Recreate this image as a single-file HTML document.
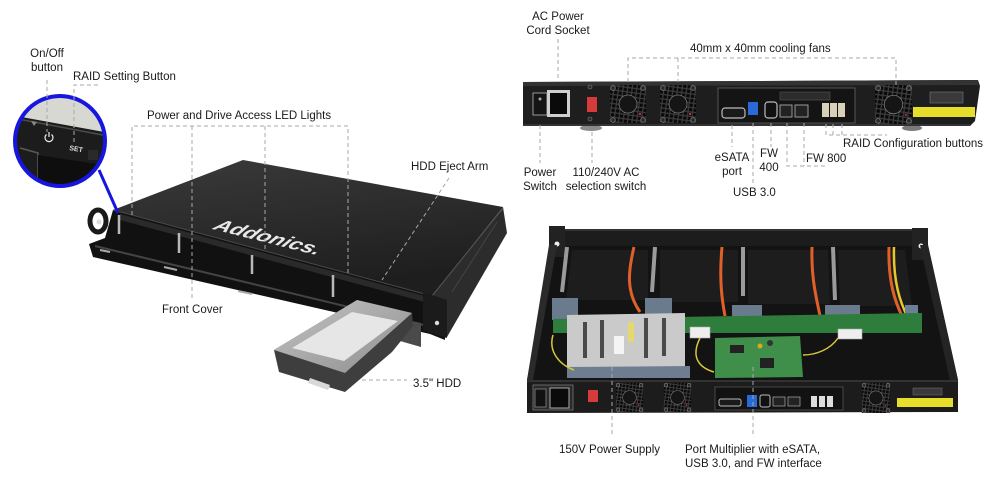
<!DOCTYPE html>
<html><head><meta charset="utf-8">
<style>
html,body{margin:0;padding:0;background:#fff;}
svg{display:block}
text{font-family:"Liberation Sans",Arial,sans-serif;font-size:11.5px;fill:#1a1a1a;}
.d{stroke:#a8a8a8;stroke-width:1;fill:none;stroke-dasharray:4 3;}
</style></head><body>
<svg width="1000" height="485" viewBox="0 0 1000 485" xmlns="http://www.w3.org/2000/svg">
<defs>
 <pattern id="grill" width="4.5" height="4.5" patternUnits="userSpaceOnUse" patternTransform="rotate(8)">
   <rect width="4.5" height="4.5" fill="#3c3c3c"/><rect x="0.6" y="0.6" width="3.2" height="3.2" fill="#080808"/>
 </pattern>
 <linearGradient id="topg" x1="0" y1="0" x2="0.3" y2="1">
   <stop offset="0" stop-color="#3a3a3a"/><stop offset="1" stop-color="#1e1e1e"/>
 </linearGradient>
 <linearGradient id="hddg" x1="0" y1="0" x2="1" y2="1">
   <stop offset="0" stop-color="#c4c4c4"/><stop offset="1" stop-color="#8e8e8e"/>
 </linearGradient>
 <clipPath id="cc"><circle cx="60" cy="141" r="45"/></clipPath>
 <symbol id="fan" viewBox="0 0 36 38">
   <rect x="0" y="0" width="36" height="38" fill="url(#grill)"/>
   <circle cx="18" cy="19" r="9" fill="#151515" stroke="#777" stroke-width="0.8"/>
   <circle cx="3" cy="3" r="2.3" fill="#2a2a2a" stroke="#888" stroke-width=".7"/>
   <circle cx="33" cy="3" r="2.3" fill="#2a2a2a" stroke="#888" stroke-width=".7"/>
   <circle cx="3" cy="35" r="2.3" fill="#2a2a2a" stroke="#888" stroke-width=".7"/>
   <circle cx="33" cy="35" r="2.3" fill="#2a2a2a" stroke="#888" stroke-width=".7"/>
   <rect x="29" y="28" width="2" height="2" fill="#c03030"/>
 </symbol>
</defs>
<rect width="1000" height="485" fill="#fff"/>

<!-- ============ LEFT CHASSIS ============ -->
<!-- front region -->
<polygon points="113,210 432,296 445,300 445,340 430,334 93,257 89,244 105,238" fill="#111"/>
<!-- bay tops -->
<polygon points="120,214 432,298 432,304 120,220" fill="#2a2a2a"/>
<line x1="95" y1="246" x2="432" y2="327" stroke="#444" stroke-width="2"/>
<!-- top face -->
<polygon points="243,160 503,207 432,296 113,210" fill="url(#topg)"/>
<line x1="113" y1="210" x2="432" y2="296" stroke="#4a4a4a" stroke-width="1"/>
<!-- right side -->
<polygon points="503,207 507,233 447,337 445,300 432,296" fill="#2c2c2c"/>
<line x1="503" y1="208" x2="432" y2="296" stroke="#555" stroke-width="1"/>
<line x1="497" y1="222" x2="452" y2="292" stroke="#444" stroke-width="1"/>
<!-- right ear -->
<polygon points="423,292 447,300 447,338 423,331" fill="#1b1b1b"/>
<circle cx="437" cy="323" r="2.2" fill="#ddd"/>
<!-- left ear -->
<ellipse cx="98" cy="221" rx="8" ry="11" fill="none" stroke="#1a1a1a" stroke-width="5"/>
<circle cx="99" cy="222" r="2.5" fill="#ddd"/>
<!-- pillars -->
<line x1="119" y1="215" x2="119" y2="234" stroke="#b8b8b8" stroke-width="2.5"/>
<line x1="179" y1="233" x2="179" y2="253" stroke="#b8b8b8" stroke-width="2.5"/>
<line x1="252" y1="255" x2="252" y2="274" stroke="#b8b8b8" stroke-width="2.5"/>
<line x1="333" y1="275" x2="333" y2="297" stroke="#b8b8b8" stroke-width="2.5"/>
<!-- slots -->
<line x1="100" y1="250" x2="110" y2="252" stroke="#aaa" stroke-width="2"/>
<line x1="164" y1="267" x2="177" y2="270" stroke="#aaa" stroke-width="2"/>
<line x1="238" y1="291" x2="252" y2="294" stroke="#aaa" stroke-width="2"/>
<!-- brand -->
<text x="0" y="0" transform="translate(212,229) rotate(14) skewX(-25)" style="font-size:17px;font-weight:bold;font-style:italic;fill:#e8e8e8" textLength="108" lengthAdjust="spacingAndGlyphs">Addonics.</text>

<!-- HDD -->
<polygon points="398,318 421,323 421,347 400,341" fill="#4a4a4a"/>
<polygon points="274,350 357,300 412,313 413,326 392,352 345,392 279,372" fill="#3e3e3e"/>
<polygon points="274,350 357,300 412,313 345,373" fill="url(#hddg)"/>
<polygon points="292,348 352,312 398,321 344,361" fill="#e6e6e6"/>
<polygon points="310,378 330,385 328,390 308,383" fill="#d8d8d8"/>

<!-- callout circle -->
<g clip-path="url(#cc)">
  <rect x="10" y="90" width="100" height="100" fill="#d8d8d3"/>
  <polygon points="10,115 110,133 110,200 10,200" fill="#1c1c1c"/>
  <line x1="18" y1="119" x2="108" y2="136" stroke="#4a4a4a" stroke-width="1.5"/>
  <polyline points="20,148 38,153 38,200" fill="none" stroke="#5a5a5a" stroke-width="1.5"/>
  <polygon points="38,155 110,166 110,200 38,200" fill="#0e0e0e"/>
  <rect x="88" y="150" width="10" height="10" fill="#2a2a2a"/>
  <polygon points="31,121 37,122 34,126" fill="#888"/>
  <path d="M46.5 134.5 A4 4 0 1 0 51.5 134.5" fill="none" stroke="#eee" stroke-width="1.2"/>
  <line x1="49" y1="132" x2="49" y2="137" stroke="#eee" stroke-width="1.2"/>
  <text x="0" y="0" transform="translate(69,150) rotate(10)" style="font-size:7px;font-weight:bold;fill:#ddd">SET</text>
</g>
<circle cx="60" cy="141" r="45" fill="none" stroke="#1616e0" stroke-width="4"/>
<line x1="99" y1="170" x2="118" y2="213" stroke="#1616e0" stroke-width="3"/>

<!-- ============ TOP RIGHT REAR PANEL ============ -->
<ellipse cx="591" cy="128" rx="11" ry="3" fill="#8a8a8a"/>
<ellipse cx="912" cy="128" rx="10" ry="3" fill="#7a7a7a"/>
<polygon points="523,82 978,80 980,86 975,121 970,126 523,126" fill="#1e1e1e"/>
<polygon points="523,82 978,80 978,85 523,86" fill="#333"/>
<line x1="523" y1="125" x2="970" y2="125" stroke="#3a3a3a" stroke-width="1.5"/>
<!-- switch & socket -->
<rect x="533" y="93" width="14" height="22" fill="#141414" stroke="#999" stroke-width="1"/>
<circle cx="540" cy="99" r="1.5" fill="#aaa"/>
<rect x="547" y="90" width="23" height="27" fill="#cfcfcf"/>
<rect x="550" y="93" width="17" height="21" fill="#0a0a0a"/>
<rect x="587" y="97" width="10" height="15" fill="#d63a3a"/>
<circle cx="590" cy="87" r="2" fill="#2a2a2a" stroke="#888" stroke-width=".6"/>
<circle cx="590" cy="119" r="2" fill="#2a2a2a" stroke="#888" stroke-width=".6"/>
<use href="#fan" x="610" y="85" width="36" height="38"/>
<use href="#fan" x="660" y="85" width="36" height="38"/>
<!-- port panel -->
<rect x="718" y="88" width="137" height="35" fill="#141414" stroke="#555" stroke-width="1"/>
<rect x="780" y="92" width="50" height="8" fill="#2c2c2c" stroke="#555" stroke-width=".6"/>
<rect x="722" y="108" width="23" height="10" rx="3" fill="#1a1a1a" stroke="#bbb" stroke-width="1.2"/>
<rect x="748" y="102" width="10" height="13" fill="#2a6ad8"/>
<rect x="765" y="102" width="12" height="16" rx="3" fill="#111" stroke="#bbb" stroke-width="1.2"/>
<rect x="780" y="105" width="12" height="12" fill="#222" stroke="#999" stroke-width="1"/>
<rect x="795" y="105" width="13" height="12" fill="#222" stroke="#999" stroke-width="1"/>
<rect x="822" y="103" width="7" height="14" fill="#d8d0b8"/>
<rect x="830" y="103" width="7" height="14" fill="#d8d0b8"/>
<rect x="838" y="103" width="7" height="14" fill="#d8d0b8"/>
<use href="#fan" x="875" y="85" width="37" height="39"/>
<rect x="930" y="92" width="33" height="11" fill="#3a3a3a" stroke="#777" stroke-width=".6"/>
<rect x="913" y="107" width="62" height="10" fill="#e6de2a"/>

<!-- ============ BOTTOM RIGHT OPEN CHASSIS ============ -->
<polygon points="553,245 928,245 958,380 527,380" fill="#131313"/>
<rect x="549" y="229" width="379" height="17" fill="#1c1c1c"/>
<line x1="549" y1="230" x2="928" y2="230" stroke="#3a3a3a" stroke-width="1.5"/>
<rect x="549" y="226" width="16" height="31" fill="#222"/>
<circle cx="557" cy="244" r="2.5" fill="#eee"/>
<rect x="912" y="228" width="16" height="32" fill="#222"/>
<circle cx="921" cy="246" r="2.5" fill="#eee"/>
<polygon points="549,245 557,245 533,380 527,380" fill="#2a2a2a"/>
<polygon points="920,245 928,245 958,380 950,380" fill="#242424"/>
<!-- bay trays -->
<polygon points="572,250 648,250 648,300 566,300" fill="#1d1d1d"/>
<polygon points="660,250 738,250 738,302 660,302" fill="#1d1d1d"/>
<polygon points="748,250 828,250 830,304 748,304" fill="#1d1d1d"/>
<polygon points="838,250 905,250 912,306 840,306" fill="#1d1d1d"/>
<!-- rails -->
<line x1="567" y1="247" x2="562" y2="292" stroke="#9a9a9a" stroke-width="4"/>
<line x1="655" y1="247" x2="652" y2="292" stroke="#9a9a9a" stroke-width="4"/>
<line x1="743" y1="247" x2="743" y2="296" stroke="#9a9a9a" stroke-width="4"/>
<line x1="833" y1="247" x2="835" y2="300" stroke="#9a9a9a" stroke-width="4"/>
<!-- cables -->
<path d="M634 247 C628 272 626 292 640 312" fill="none" stroke="#e0602a" stroke-width="3"/>
<path d="M722 247 C719 280 722 300 725 316" fill="none" stroke="#e0602a" stroke-width="3"/>
<path d="M812 247 C811 280 817 300 820 316" fill="none" stroke="#e0602a" stroke-width="3"/>
<path d="M889 247 C888 282 895 302 903 318" fill="none" stroke="#e0602a" stroke-width="3"/>
<path d="M894 247 C893 282 900 302 908 318" fill="none" stroke="#e8c828" stroke-width="2.5"/>
<!-- brackets -->
<rect x="552" y="298" width="26" height="22" fill="#6b7b8e"/>
<rect x="645" y="298" width="27" height="20" fill="#6b7b8e"/>
<rect x="732" y="305" width="30" height="20" fill="#6b7b8e"/>
<rect x="825" y="305" width="35" height="20" fill="#6b7b8e"/>
<rect x="905" y="305" width="13" height="22" fill="#6b7f99"/>
<!-- backplane -->
<polygon points="553,319 922,313 922,333 553,333" fill="#2e7d3c"/>
<!-- molex -->
<rect x="690" y="327" width="20" height="11" fill="#eee" stroke="#aaa" stroke-width=".6"/>
<rect x="838" y="329" width="24" height="10" fill="#eee" stroke="#aaa" stroke-width=".6"/>
<!-- PSU -->
<polygon points="567,315 685,313 685,367 567,369" fill="#cacaca"/>
<rect x="583" y="322" width="4" height="36" fill="#4a4a4a"/>
<rect x="600" y="320" width="4" height="38" fill="#4a4a4a"/>
<rect x="614" y="336" width="10" height="18" fill="#f4f4f4"/>
<rect x="628" y="322" width="6" height="20" fill="#e4d870"/>
<rect x="644" y="318" width="4" height="40" fill="#4a4a4a"/>
<rect x="662" y="318" width="4" height="38" fill="#4a4a4a"/>
<polygon points="567,367 690,366 690,378 567,378" fill="#6e7d92"/>
<!-- port multiplier pcb -->
<polygon points="715,338 800,336 803,377 715,378" fill="#3f8f4a"/>
<rect x="730" y="345" width="14" height="8" fill="#222"/>
<rect x="760" y="358" width="14" height="10" fill="#222"/>
<circle cx="770" cy="343" r="3" fill="#333"/>
<circle cx="760" cy="346" r="2.5" fill="#d8a820"/>
<path d="M838 338 C830 350 815 355 803 355" fill="none" stroke="#d8c83a" stroke-width="1.5"/>
<path d="M700 338 C690 358 700 368 714 372" fill="none" stroke="#d8c83a" stroke-width="1.5"/>
<path d="M553 335 C548 352 560 365 574 370" fill="none" stroke="#d8c83a" stroke-width="1.5"/>
<!-- front panel -->
<polygon points="527,380 958,380 958,412 527,413" fill="#1c1c1c"/>
<line x1="527" y1="381" x2="958" y2="381" stroke="#3a3a3a" stroke-width="1.5"/>
<rect x="533" y="385" width="40" height="25" fill="#2a2a2a" stroke="#777" stroke-width=".8"/>
<rect x="535" y="389" width="11" height="18" fill="#111" stroke="#888" stroke-width=".8"/>
<rect x="550" y="388" width="19" height="20" fill="#0a0a0a" stroke="#aaa" stroke-width="1"/>
<rect x="588" y="390" width="10" height="12" fill="#d63a3a"/>
<use href="#fan" x="612" y="383" width="35" height="29"/>
<use href="#fan" x="660" y="383" width="35" height="29"/>
<use href="#fan" x="860" y="383" width="32" height="30"/>
<rect x="715" y="387" width="128" height="23" fill="#121212" stroke="#555" stroke-width=".8"/>
<rect x="719" y="399" width="22" height="7" rx="2" fill="#1a1a1a" stroke="#bbb" stroke-width="1"/>
<rect x="747" y="395" width="10" height="12" fill="#2a6ad8"/>
<rect x="760" y="395" width="10" height="12" rx="2" fill="#111" stroke="#bbb" stroke-width="1"/>
<rect x="773" y="397" width="12" height="9" fill="#222" stroke="#999" stroke-width=".8"/>
<rect x="788" y="397" width="12" height="9" fill="#222" stroke="#999" stroke-width=".8"/>
<rect x="811" y="396" width="6" height="11" fill="#ddd"/>
<rect x="819" y="396" width="6" height="11" fill="#ddd"/>
<rect x="827" y="396" width="6" height="11" fill="#ddd"/>
<rect x="913" y="388" width="29" height="7" fill="#3a3a3a" stroke="#777" stroke-width=".5"/>
<rect x="897" y="398" width="56" height="9" fill="#e6de2a"/>

<!-- ============ DASHED LEADERS ============ -->
<path class="d" d="M47 80 V132"/>
<path class="d" d="M98 85 H74 V145"/>
<path class="d" d="M132 215 V126 H348 V274 M192 126 V298 M265 126 V252"/>
<path class="d" d="M449 178 L382 280"/>
<path class="d" d="M362 380 H407"/>
<path class="d" d="M558 39 V80"/>
<path class="d" d="M540 125 V163"/>
<path class="d" d="M592 132 V163"/>
<path class="d" d="M628 82 V58 H896 V88 M678 58 V82"/>
<path class="d" d="M732 125 V147"/>
<path class="d" d="M753 123 V185"/>
<path class="d" d="M771 123 V147"/>
<path class="d" d="M787 123 V166 H825 M804 123 V166"/>
<path class="d" d="M826 124 V135 H887 M833 124 V135 M842 124 V135"/>
<path class="d" d="M612 367 V437"/>
<path class="d" d="M753 367 V437"/>

<!-- ============ LABELS ============ -->
<text x="47" y="57" text-anchor="middle">On/Off</text>
<text x="47" y="71" text-anchor="middle">button</text>
<text x="73" y="80">RAID Setting Button</text>
<text x="147" y="119">Power and Drive Access LED Lights</text>
<text x="411" y="170">HDD Eject Arm</text>
<text x="162" y="313">Front Cover</text>
<text x="413" y="387">3.5" HDD</text>

<text x="558" y="20" text-anchor="middle">AC Power</text>
<text x="558" y="34" text-anchor="middle">Cord Socket</text>
<text x="690" y="52">40mm x 40mm cooling fans</text>
<text x="540" y="176" text-anchor="middle">Power</text>
<text x="540" y="190" text-anchor="middle">Switch</text>
<text x="606" y="176" text-anchor="middle">110/240V AC</text>
<text x="606" y="190" text-anchor="middle">selection switch</text>
<text x="732" y="161" text-anchor="middle">eSATA</text>
<text x="732" y="175" text-anchor="middle">port</text>
<text x="769" y="157" text-anchor="middle">FW</text>
<text x="769" y="171" text-anchor="middle">400</text>
<text x="806" y="162">FW 800</text>
<text x="843" y="147">RAID Configuration buttons</text>
<text x="733" y="196">USB 3.0</text>

<text x="559" y="453">150V Power Supply</text>
<text x="685" y="453">Port Multiplier with eSATA,</text>
<text x="685" y="467">USB 3.0, and FW interface</text>
</svg>
</body></html>
